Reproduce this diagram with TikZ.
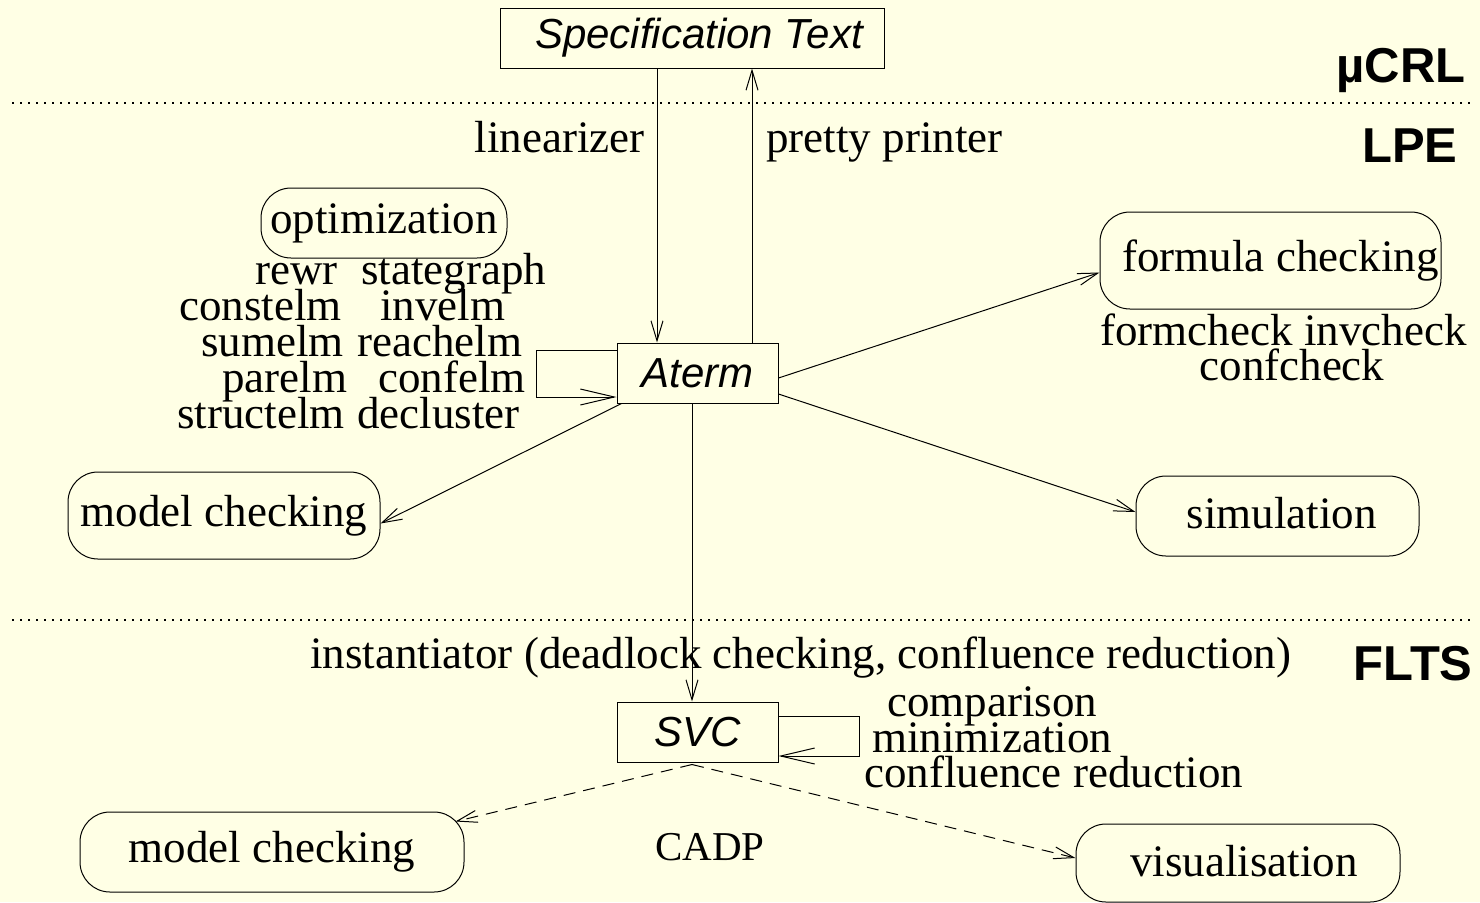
\documentclass[tikz,border=0pt]{standalone}
\usepackage{fontspec}
\setmainfont{Liberation Serif}
\setsansfont{Liberation Sans}
\usetikzlibrary{arrows.meta,calc}
\definecolor{bg}{RGB}{255,255,229}
\newcommand{\serifsz}{\fontsize{22.5pt}{27pt}\selectfont}
\newcommand{\sanssz}{\sffamily\itshape\fontsize{21pt}{25pt}\selectfont}
\newcommand{\levelsz}{\sffamily\bfseries\fontsize{24.5pt}{29pt}\selectfont}
\tikzset{
  sqbox/.style={draw, line width=0.5pt, inner sep=0pt, font=\sanssz},
  rbox/.style={draw, line width=0.5pt, inner sep=0pt, rounded corners=15pt, font=\serifsz},
  lbl/.style={inner sep=0pt, font=\serifsz},
  lvl/.style={inner sep=0pt, font=\levelsz, anchor=base east},
  arr/.style={line width=0.5pt, -{Straight Barb[length=10pt,width=6pt,line width=0.5pt]}},
  bigarr/.style={line width=0.5pt, -{Straight Barb[length=17pt,width=8pt,line width=0.5pt]}},
  darr/.style={arr, dash pattern=on 6pt off 4pt},
  sep/.style={line width=0.6pt, dash pattern=on 1pt off 3pt}
}
\begin{document}
\begin{tikzpicture}[x=0.5pt,y=-0.5pt]
\useasboundingbox (0,0) rectangle (1480,902);
\fill[bg] (0,0) rectangle (1480,902);

% separators
\coordinate (s1a) at (12,103); \coordinate (s1b) at (1470,103);
\coordinate (s2a) at (12,620); \coordinate (s2b) at (1470,620);
\draw[sep] (s1a) -- (s1b);
\draw[sep] (s2a) -- (s2b);

% level labels
\node[lvl] (mucrl) at (1466,82) {µCRL};
\node[lvl] (lpe) at (1458,162) {LPE};
\node[lvl] (flts) at (1473,680) {FLTS};

% main boxes
\node[sqbox, minimum width=192pt, minimum height=30pt] (spec) at (692,38) {\hspace{7pt}Specification Text};
\node[sqbox, minimum width=80.5pt, minimum height=30pt] (aterm) at (697.5,373) {Aterm};
\node[sqbox, minimum width=80.5pt, minimum height=30pt] (svc) at (697.5,732) {SVC};

\node[rbox, minimum width=123pt, minimum height=35pt] (opt) at (384,223) {\raisebox{-1.5pt}{optimization}};
\node[rbox, minimum width=170.5pt, minimum height=48.5pt] (fc) at (1270.5,260.5) {\hspace{10pt}formula checking};
\node[rbox, minimum width=156pt, minimum height=43.5pt] (mc1) at (224,515.5) {\raisebox{1pt}{model checking}};
\node[rbox, minimum width=141.5pt, minimum height=40pt] (sim) at (1277.5,516) {\hspace{4pt}\raisebox{3pt}{simulation}};
\node[rbox, minimum width=192pt, minimum height=40pt] (mc2) at (272,852) {model checking};
\node[rbox, minimum width=162pt, minimum height=39pt] (vis) at (1238,863) {\hspace{6pt}\raisebox{2.5pt}{visualisation}};

% labels
\node[lbl, anchor=base east] (lin) at (645,152) {linearizer};
\node[lbl, anchor=base west] (pp) at (766,152) {pretty printer};

\node[lbl, anchor=base west] (w1a) at (255,284) {rewr};
\node[lbl, anchor=base west] (w1b) at (361,284) {stategraph};
\node[lbl, anchor=base west] (w2a) at (179,320) {constelm};
\node[lbl, anchor=base west] (w2b) at (380,320) {invelm};
\node[lbl, anchor=base west] (w3a) at (201,356) {sumelm};
\node[lbl, anchor=base west] (w3b) at (357,356) {reachelm};
\node[lbl, anchor=base west] (w4a) at (222,392) {parelm};
\node[lbl, anchor=base west] (w4b) at (378,392) {confelm};
\node[lbl, anchor=base west] (w5a) at (177,428) {structelm};
\node[lbl, anchor=base west] (w5b) at (357,428) {decluster};

\node[lbl, anchor=base west] (fcl1) at (1100,345) {formcheck invcheck};
\node[lbl, anchor=base] (fcl2) at (1292,380) {confcheck};

\node[lbl, anchor=base west] (inst) at (310,668) {instantiator (deadlock checking, confluence reduction)};

\node[lbl, anchor=base west] (cmp) at (887,716) {comparison};
\node[lbl, anchor=base west] (mini) at (872,752) {minimization};
\node[lbl, anchor=base west] (conf) at (864,787) {confluence reduction};

\node[lbl, anchor=base, font=\fontsize{20.5pt}{24pt}\selectfont] (cadp) at (710,860) {CADP};

% connectors
\coordinate (linx) at (657,0);
\coordinate (ppx) at (752,0);
\coordinate (downx) at (692,0);
\draw[arr] (spec.south -| linx) -- (aterm.north -| linx);
\draw[arr] (aterm.north -| ppx) -- (spec.south -| ppx);
\draw[arr] ([yshift=-2.5pt]aterm.east) -- ([yshift=-6pt]fc.west);
\draw[arr] ([yshift=-10.5pt]aterm.east) -- ([yshift=2pt]sim.west);
\draw[arr] ([xshift=2.5pt]aterm.south west) -- ([yshift=-4pt]mc1.east);
\draw[arr] (aterm.south -| downx) -- (svc.north -| downx);

\draw[bigarr] ([yshift=11.5pt]aterm.west) -- ++(-80,0) -- ++(0,47) -- ([yshift=-12pt]aterm.west);
\draw[bigarr] ([yshift=8pt]svc.east) -- ++(81,0) -- ++(0,40) -- ([yshift=-12pt]svc.east);

\coordinate (svcb) at ($(svc.south -| downx)+(0,2)$);
\draw[darr] (svcb) -- ($(mc2.north east)+(-9,10)$);
\draw[darr] (svcb) -- ([yshift=2.5pt]vis.west);
\end{tikzpicture}
\end{document}
